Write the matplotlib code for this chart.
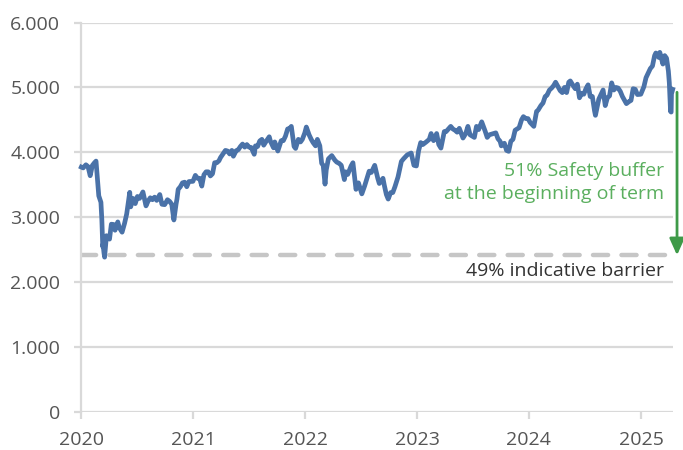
import matplotlib
matplotlib.use("Agg")
import matplotlib.pyplot as plt
import pandas as pd

dates = [
 "2020-01-02","2020-01-08","2020-01-17","2020-01-24","2020-01-31","2020-02-07","2020-02-14","2020-02-19","2020-02-24","2020-02-28",
 "2020-03-06","2020-03-09","2020-03-12","2020-03-13","2020-03-16","2020-03-18","2020-03-24","2020-03-27","2020-04-03","2020-04-09",
 "2020-04-17","2020-04-21","2020-04-30","2020-05-05","2020-05-14","2020-05-22","2020-05-29","2020-06-08","2020-06-11","2020-06-19",
 "2020-06-26","2020-07-03","2020-07-10","2020-07-21","2020-07-31","2020-08-07","2020-08-14","2020-08-21","2020-08-28","2020-09-04",
 "2020-09-14","2020-09-21","2020-09-30","2020-10-09","2020-10-16","2020-10-23","2020-10-30","2020-11-06","2020-11-09","2020-11-13",
 "2020-11-20","2020-11-27","2020-12-04","2020-12-11","2020-12-18","2020-12-31",
 "2021-01-08","2021-01-15","2021-01-22","2021-01-29","2021-02-05","2021-02-12","2021-02-19","2021-02-26","2021-03-05","2021-03-12",
 "2021-03-19","2021-03-26","2021-03-31","2021-04-09","2021-04-16","2021-04-23","2021-04-30","2021-05-07","2021-05-12","2021-05-21",
 "2021-05-28","2021-06-04","2021-06-11","2021-06-18","2021-06-25","2021-07-02","2021-07-09","2021-07-19","2021-07-23","2021-07-30",
 "2021-08-06","2021-08-13","2021-08-19","2021-08-27","2021-09-06","2021-09-10","2021-09-20","2021-09-24","2021-10-04","2021-10-08",
 "2021-10-15","2021-10-22","2021-10-29","2021-11-05","2021-11-12","2021-11-17","2021-11-26","2021-12-01","2021-12-10","2021-12-17",
 "2021-12-23","2021-12-31",
 "2022-01-05","2022-01-14","2022-01-21","2022-01-27","2022-02-04","2022-02-10","2022-02-18","2022-02-24","2022-03-01","2022-03-07",
 "2022-03-11","2022-03-18","2022-03-29","2022-04-08","2022-04-14","2022-04-22","2022-04-29","2022-05-09","2022-05-13","2022-05-20",
 "2022-05-31","2022-06-06","2022-06-16","2022-06-24","2022-07-05","2022-07-14","2022-07-22","2022-07-29","2022-08-05","2022-08-16",
 "2022-08-26","2022-08-31","2022-09-12","2022-09-16","2022-09-23","2022-09-29","2022-10-07","2022-10-14","2022-10-21","2022-10-31",
 "2022-11-11","2022-11-18","2022-11-30","2022-12-13","2022-12-22","2022-12-30",
 "2023-01-06","2023-01-13","2023-01-20","2023-01-31","2023-02-10","2023-02-16","2023-02-24","2023-03-06","2023-03-13","2023-03-20",
 "2023-03-31","2023-04-06","2023-04-21","2023-04-28","2023-05-05","2023-05-12","2023-05-19","2023-05-31","2023-06-09","2023-06-16",
 "2023-06-23","2023-07-07","2023-07-14","2023-07-21","2023-07-31","2023-08-11","2023-08-18","2023-08-25","2023-09-01","2023-09-15",
 "2023-09-22","2023-09-29","2023-10-03","2023-10-13","2023-10-20","2023-10-27","2023-11-03","2023-11-10","2023-11-17","2023-11-30",
 "2023-12-08","2023-12-14","2023-12-22","2023-12-29",
 "2024-01-05","2024-01-17","2024-01-26","2024-01-31","2024-02-09","2024-02-16","2024-02-23","2024-02-29","2024-03-08","2024-03-15",
 "2024-03-22","2024-03-28","2024-04-05","2024-04-12","2024-04-19","2024-04-26","2024-05-03","2024-05-10","2024-05-15","2024-05-24",
 "2024-05-31","2024-06-07","2024-06-14","2024-06-21","2024-06-28","2024-07-05","2024-07-12","2024-07-19","2024-07-26","2024-08-02",
 "2024-08-05","2024-08-09","2024-08-16","2024-08-23","2024-08-30","2024-09-06","2024-09-13","2024-09-20","2024-09-27","2024-10-04",
 "2024-10-11","2024-10-18","2024-10-25","2024-11-01","2024-11-08","2024-11-14","2024-11-22","2024-11-29","2024-12-06","2024-12-13",
 "2024-12-20","2024-12-31",
 "2025-01-10","2025-01-17","2025-01-24","2025-01-31","2025-02-07","2025-02-14","2025-02-18","2025-02-28","2025-03-03","2025-03-07",
 "2025-03-13","2025-03-19","2025-03-25","2025-03-31","2025-04-03","2025-04-07","2025-04-09","2025-04-10","2025-04-14",
]

values = [
 3773,3760,3808,3780,3640,3798,3840,3865,3570,3330,
 3230,2960,2545,2586,2450,2385,2716,2700,2663,2893,
 2888,2800,2928,2840,2770,2905,3050,3384,3160,3290,
 3210,3320,3290,3390,3175,3250,3300,3270,3310,3260,
 3350,3200,3194,3270,3245,3200,2958,3200,3280,3430,
 3470,3530,3540,3470,3550,3553,
 3645,3600,3600,3480,3655,3700,3700,3636,3670,3840,
 3840,3870,3919,3980,4030,4020,3975,4030,3940,4025,
 4040,4090,4128,4080,4120,4080,4075,3970,4100,4090,
 4175,4200,4110,4170,4240,4170,4070,4160,4020,4080,
 4180,4180,4250,4360,4370,4400,4090,4060,4200,4160,
 4200,4300,
 4390,4270,4200,4150,4100,4200,4100,3830,3800,3510,
 3730,3900,3950,3880,3850,3830,3800,3580,3700,3660,
 3790,3840,3430,3530,3360,3480,3600,3710,3690,3800,
 3600,3520,3600,3500,3350,3280,3380,3380,3470,3620,
 3860,3900,3960,3990,3800,3790,
 4020,4150,4120,4160,4200,4290,4180,4290,4120,4065,
 4320,4320,4400,4360,4340,4310,4370,4220,4290,4400,
 4270,4230,4400,4350,4470,4330,4230,4270,4280,4300,
 4210,4170,4100,4140,4030,4015,4170,4200,4340,4380,
 4500,4550,4520,4520,
 4460,4400,4630,4650,4720,4760,4860,4880,4960,4990,
 5030,5080,5010,4950,4920,5000,4920,5080,5100,5030,
 4980,5050,4840,4910,4895,4980,5040,4860,4860,4640,
 4570,4660,4820,4890,4960,4720,4840,4870,5070,4960,
 5000,4990,4940,4860,4800,4750,4780,4800,4980,4970,
 4890,4895,
 5010,5150,5220,5290,5330,5490,5530,5460,5540,5470,
 5360,5490,5450,5250,5070,4630,4620,4900,4970,
]

barrier_level = 2415
arrow_top = 4925
y_ticks = [0, 1000, 2000, 3000, 4000, 5000, 6000]
y_tick_labels = ["0", "1.000", "2.000", "3.000", "4.000", "5.000", "6.000"]
x_years = ["2020", "2021", "2022", "2023", "2024", "2025"]
buffer_text = "51% Safety buffer\nat the beginning of term"
barrier_text = "49% indicative barrier"

plt.rcParams['font.family'] = ['Open Sans', 'DejaVu Sans']

x = pd.to_datetime(dates)

fig = plt.figure(figsize=(6.83, 4.5), dpi=100)
ax = fig.add_axes([81/683, 1 - 412/450, (673-81)/683, (412-22.5)/450])

grid_c = "#d9d9d9"
ax.set_ylim(0, 6000)
ax.set_xlim(pd.Timestamp("2020-01-01"), pd.Timestamp("2025-04-15"))
ax.set_yticks(y_ticks)
ax.set_yticklabels(y_tick_labels)
ax.yaxis.grid(True, color=grid_c, linewidth=1.6)
ax.set_axisbelow(True)

year_ticks = [pd.Timestamp(y + "-01-01") for y in x_years]
ax.set_xticks(year_ticks)
ax.set_xticklabels(x_years)

for s in ["top", "right", "bottom"]:
    ax.spines[s].set_visible(False)
ax.spines["left"].set_color(grid_c)
ax.spines["left"].set_linewidth(1.6)

ax.tick_params(axis="y", length=5, width=1.6, color=grid_c, pad=10,
               labelsize=14, labelcolor="#555555")
ax.tick_params(axis="x", length=5, width=1.6, color=grid_c, pad=9,
               labelsize=14, labelcolor="#555555")

# barrier dashed line
bl, = ax.plot([x[0] - pd.Timedelta(days=1), pd.Timestamp("2025-04-15")],
              [barrier_level, barrier_level], color="#c6c6c6", linewidth=3.2,
              solid_capstyle="butt", dash_capstyle="round")
bl.set_dashes([3.4, 3.0])

ax.plot(x, values, color="#4A72A8", linewidth=3.4, solid_joinstyle="round",
        clip_on=False, zorder=3)

# arrow
ax.annotate("", xy=(1.0068, barrier_level), xytext=(1.0068, arrow_top),
            xycoords=("axes fraction", "data"), textcoords=("axes fraction", "data"),
            arrowprops=dict(arrowstyle="-|>,head_length=1.0,head_width=0.45",
                            color="#3E9A48", linewidth=2.0, shrinkA=0, shrinkB=0),
            annotation_clip=False)

ax.text(0.9855, 3540, buffer_text, transform=ax.get_yaxis_transform(),
        ha="right", va="center", fontsize=14, color="#5BAF5F", linespacing=1.35)
ax.text(0.9855, 2175, barrier_text, transform=ax.get_yaxis_transform(),
        ha="right", va="center", fontsize=14, color="#333333")

fig.savefig("out.png", dpi=100)
